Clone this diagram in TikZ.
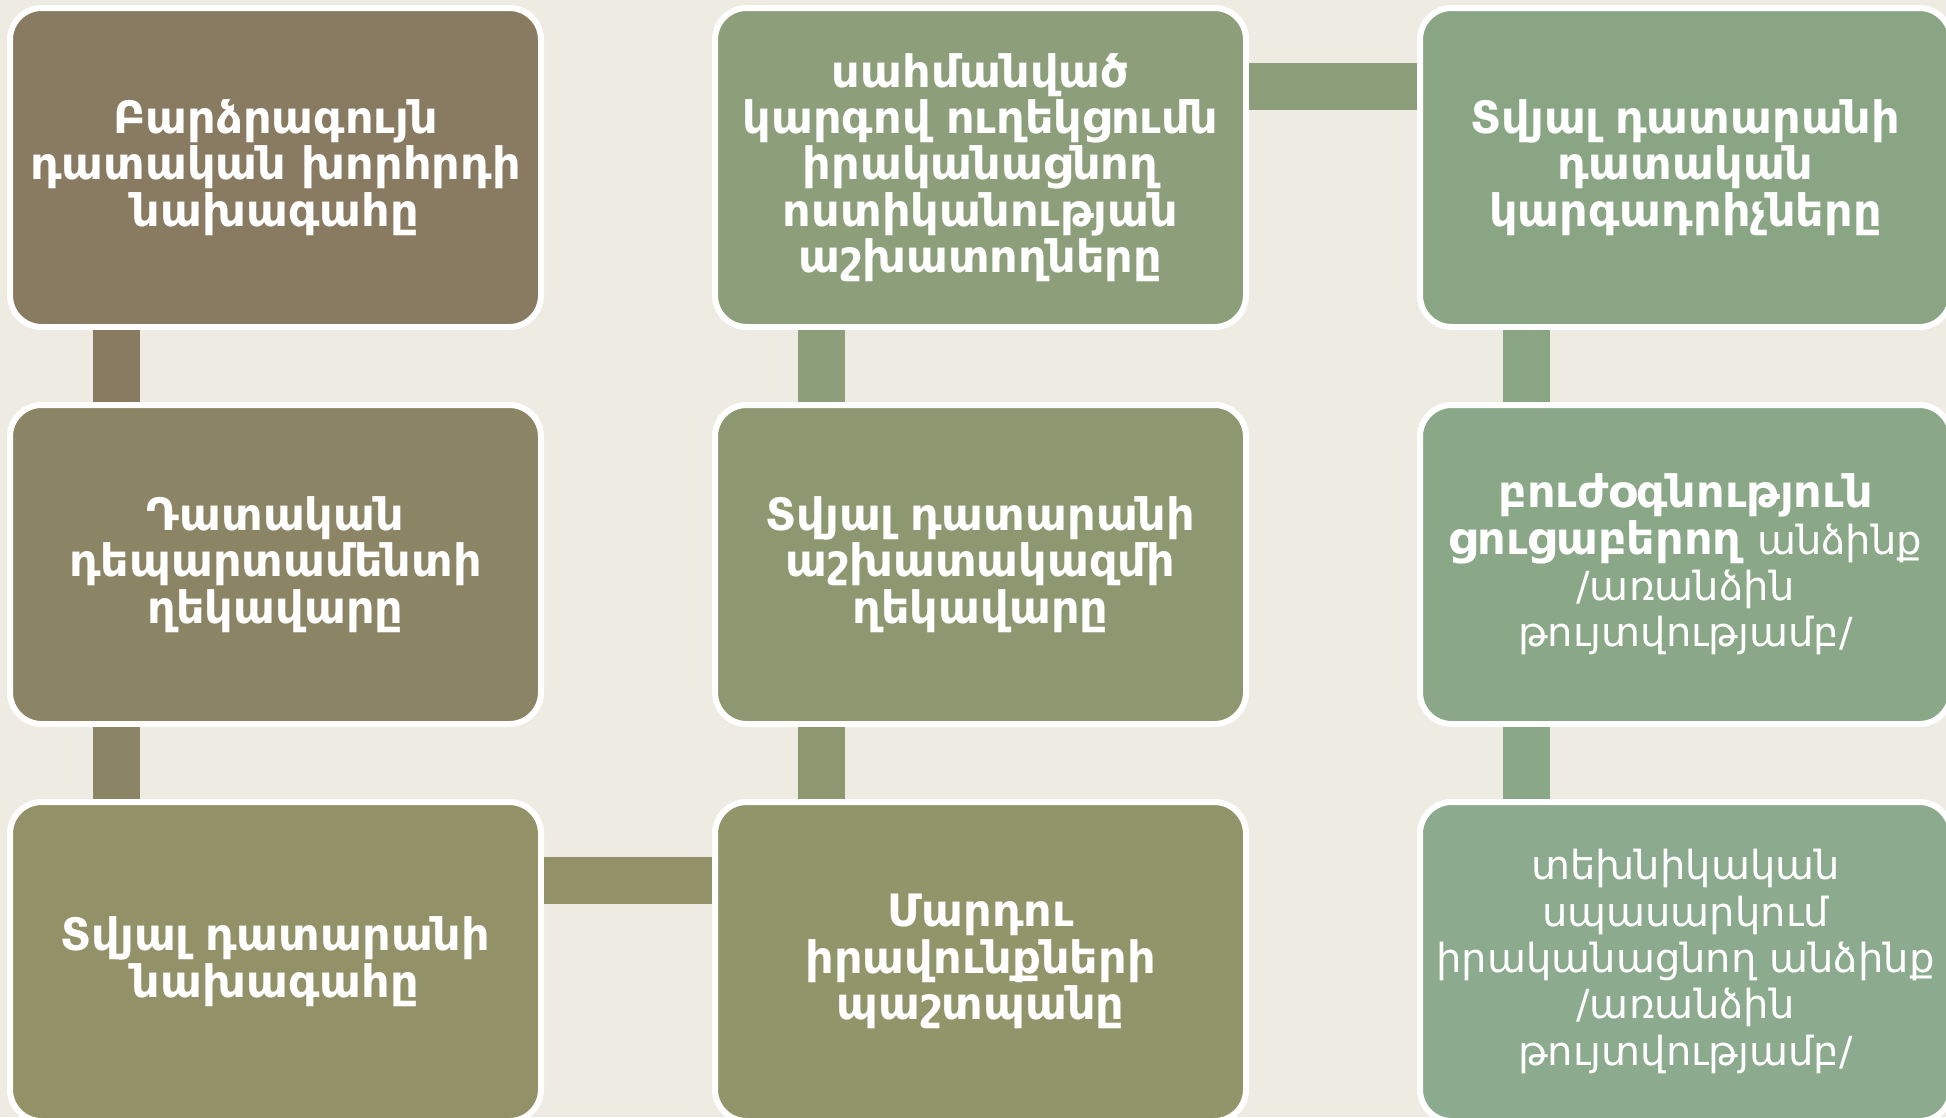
\documentclass[tikz,border=0pt]{standalone}
\usepackage{fontspec}
\setmainfont{DejaVu Sans}
\usetikzlibrary{positioning}
\definecolor{paper}{HTML}{EEEBE3}
\definecolor{taupe}{HTML}{897B61}
\definecolor{taupeolive}{HTML}{8B8465}
\definecolor{olive}{HTML}{939168}
\definecolor{olivegreen}{HTML}{90956A}
\definecolor{sage}{HTML}{8D9770}
\definecolor{sagelight}{HTML}{8C9E7A}
\definecolor{moss}{HTML}{8AA584}
\definecolor{mosslight}{HTML}{8AA887}
\definecolor{mint}{HTML}{8CAA8D}
\newcommand{\plaintxt}{\mdseries\fontsize{11.4}{13.2}\selectfont}

\tikzset{
  post/.style={draw=white,line width=0.06cm,rounded corners=9pt,minimum width=5.31cm,minimum height=3.19cm,
    inner sep=0pt,align=center,text=white,font=\fontsize{12.7}{13.2}\selectfont\bfseries},
  link/.style={line width=0.47cm}
}

\begin{document}
\begin{tikzpicture}[node distance=0.72cm and 1.68cm]
        \useasboundingbox (0,0) rectangle (19.46,-11.17);
        \fill[paper] (0,0) rectangle (19.46,-11.17);
        % first column
        \node[post,fill=taupe] (top) at (2.755,-1.675) {Բարձրագույն\\դատական խորհրդի\\նախագահը};
        \node[post,fill=taupeolive,below=of top] (depart) {Դատական\\դեպարտամենտի\\ղեկավարը};
        \node[post,fill=olive,below=of depart] (chair) {Տվյալ դատարանի\\նախագահը};
        % second column
        \node[post,fill=sagelight,right=of top] (police) {սահմանված\\կարգով ուղեկցումն\\իրականացնող\\ոստիկանության\\աշխատողները};
        \node[post,fill=sage,below=of police] (staff) {Տվյալ դատարանի\\աշխատակազմի\\ղեկավարը};
        \node[post,fill=olivegreen,below=of staff] (ombud) {Մարդու\\իրավունքների\\պաշտպանը};
        % third column
        \node[post,fill=moss,right=of police] (bailiff) {Տվյալ դատարանի\\դատական\\կարգադրիչները};
        \node[post,fill=mosslight,below=of bailiff] (medic) {բուժօգնություն\\ցուցաբերող {\plaintxt անձինք}\\{\plaintxt /առանձին}\\{\plaintxt թույտվությամբ/}};
        \node[post,fill=mint,below=of medic,font=\plaintxt] (tech) {տեխնիկական\\սպասարկում\\իրականացնող անձինք\\/առանձին\\թույտվությամբ/};

        \draw[link,taupe] ([xshift=1.095cm]top.south west) -- ([xshift=1.095cm]depart.north west);
        \draw[link,taupeolive] ([xshift=1.095cm]depart.south west) -- ([xshift=1.095cm]chair.north west);
        \draw[link,olive] ([yshift=-0.81cm]chair.north east) -- ([yshift=-0.81cm]ombud.north west);
        \draw[link,sage] ([xshift=1.095cm]ombud.north west) -- ([xshift=1.095cm]staff.south west);
        \draw[link,sagelight] ([xshift=1.095cm]staff.north west) -- ([xshift=1.095cm]police.south west);
        \draw[link,sagelight] ([yshift=-0.81cm]police.north east) -- ([yshift=-0.81cm]bailiff.north west);
        \draw[link,moss] ([xshift=1.095cm]bailiff.south west) -- ([xshift=1.095cm]medic.north west);
        \draw[link,mosslight] ([xshift=1.095cm]medic.south west) -- ([xshift=1.095cm]tech.north west);
      \end{tikzpicture}
\end{document}
